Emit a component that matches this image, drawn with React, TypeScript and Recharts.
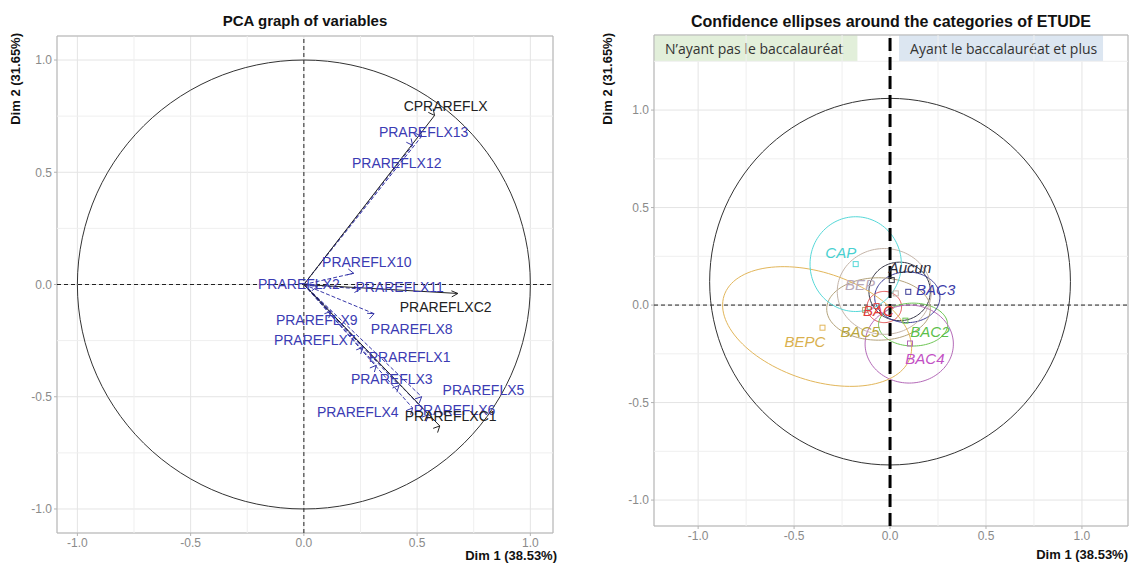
import {
  ComposedChart,
  Line,
  Scatter,
  XAxis,
  YAxis,
  CartesianGrid,
  ReferenceLine,
  ReferenceArea,
} from "recharts";

// ---------- PCA graph of variables ----------
const varNames = [
  "PRAREFLX1", "PRAREFLX2", "PRAREFLX3", "PRAREFLX4", "PRAREFLX5", "PRAREFLX6",
  "PRAREFLX7", "PRAREFLX8", "PRAREFLX9", "PRAREFLX10", "PRAREFLX11", "PRAREFLX12",
  "PRAREFLX13", "CPRAREFLX", "PRAREFLXC1", "PRAREFLXC2",
];
const varDim1 = [0.32, 0.06, 0.42, 0.48, 0.52, 0.55, 0.26, 0.31, 0.12, 0.22, 0.25, 0.48, 0.52, 0.577, 0.6, 0.68];
const varDim2 = [-0.36, -0.01, -0.45, -0.55, -0.5, -0.58, -0.28, -0.13, -0.12, 0.05, -0.02, 0.62, 0.66, 0.753, -0.63, -0.04];
const varActive = [false, false, false, false, false, false, false, false, false, false, false, false, false, true, true, true];
const varLabelDim1 = [0.467, -0.022, 0.388, 0.238, 0.793, 0.665, 0.048, 0.476, 0.057, 0.278, 0.423, 0.41, 0.529, 0.626, 0.648, 0.626];
const varLabelDim2 = [-0.321, 0.004, -0.419, -0.57, -0.468, -0.557, -0.249, -0.2, -0.156, 0.102, -0.009, 0.543, 0.681, 0.793, -0.588, -0.102];

// ---------- Confidence ellipses (ETUDE) ----------
const categories = ["Aucun", "BAC", "BAC2", "BAC3", "BAC4", "BAC5", "BEP", "BEPC", "CAP"];
const catDim1 = [0.009, -0.07, 0.08, 0.095, 0.104, -0.13, 0.03, -0.352, -0.179];
const catDim2 = [0.128, -0.005, -0.08, 0.068, -0.197, -0.025, 0.06, -0.116, 0.21];
const catLabelDim1 = [0.104, -0.06, 0.208, 0.238, 0.182, -0.156, -0.156, -0.443, -0.257];
const catLabelDim2 = [0.193, -0.026, -0.137, 0.08, -0.273, -0.137, 0.103, -0.188, 0.268];
const ellCx = [0.05, -0.03, 0.12, 0.09, 0.1, -0.06, -0.03, -0.38, -0.179];
const ellCy = [0.07, -0.01, -0.1, 0.04, -0.2, -0.02, 0.07, -0.11, 0.21];
const ellA = [0.16, 0.09, 0.18, 0.17, 0.23, 0.27, 0.245, 0.51, 0.238];
const ellB = [0.15, 0.08, 0.11, 0.13, 0.2, 0.16, 0.22, 0.277, 0.243];
const ellAngle = [0, 0, 0, 0, 0, 0, 0, -18, 0];
const catStroke = ["#353545", "#e05050", "#6cc552", "#3c3c96", "#b46ab8", "#b3a27a", "#c4b4a8", "#e2b65a", "#55d8d8"];
const catText = ["#2a2a3a", "#e03c3c", "#5cbf4a", "#3a3aa8", "#c24fc4", "#b8a640", "#b8a8b8", "#d9b04e", "#48d0d0"];

const groupBoxes = ["N’ayant pas le baccalauréat", "Ayant le baccalauréat et plus"];

const majorTicks = [-1, -0.5, 0, 0.5, 1];
const minorTicks = [-0.75, -0.25, 0.25, 0.75, 1.25];

const BLUE = "#3b3bb3";
const FONT = "'Liberation Sans', Arial, sans-serif";

const LX: [number, number] = [-1.09, 1.1];
const LY: [number, number] = [-1.107, 1.107];
const RX: [number, number] = [-1.23, 1.24];
const RY: [number, number] = [-1.133, 1.385];

function ellipse(cx: number, cy: number, a: number, b: number, deg: number) {
  const t = (deg * Math.PI) / 180;
  const pts = [];
  for (let i = 0; i <= 120; i++) {
    const u = (i / 120) * 2 * Math.PI;
    const ex = a * Math.cos(u);
    const ey = b * Math.sin(u);
    pts.push({ x: cx + ex * Math.cos(t) - ey * Math.sin(t), y: cy + ex * Math.sin(t) + ey * Math.cos(t) });
  }
  return pts;
}

const arrowHead = (color: string, sx: number, sy: number) => (p: any) => {
  const { cx, cy, index, payload } = p;
  if (index !== 1 || cx == null) return <g key={`n${index}`} />;
  const ang = Math.atan2(-payload.y * sy, payload.x * sx);
  const len = 7;
  const sp = 0.45;
  const a1 = [cx - len * Math.cos(ang - sp), cy + len * Math.sin(ang - sp)];
  const a2 = [cx - len * Math.cos(ang + sp), cy + len * Math.sin(ang + sp)];
  return (
    <polyline
      key={`h${index}`}
      points={`${a1[0]},${a1[1]} ${cx},${cy} ${a2[0]},${a2[1]}`}
      fill="none"
      stroke={color}
      strokeWidth={1}
    />
  );
};

const textShape = (italic: boolean, size: number) => (p: any) => (
  <text
    x={p.cx}
    y={p.cy}
    textAnchor="middle"
    dominantBaseline="central"
    fontSize={size}
    fontFamily={FONT}
    fontStyle={italic ? "italic" : "normal"}
    fill={p.payload.color}
  >
    {p.payload.name}
  </text>
);

const squareShape = (p: any) => (
  <rect x={p.cx - 2.5} y={p.cy - 2.5} width={5} height={5} fill="none" stroke={p.payload.color} strokeWidth={1} />
);

const BoxLabel = (props: any) => {
  const vb = props.viewBox || {};
  return (
    <text
      x={vb.x + 11}
      y={vb.y + vb.height / 2}
      dominantBaseline="central"
      fontSize={14}
      fontFamily="'Open Sans', sans-serif"
      fill="#333"
    >
      {props.text}
    </text>
  );
};

const tickFmt = (v: number) => v.toFixed(1);
const tickStyle = { fill: "#8a8a8a", fontSize: 12, fontFamily: FONT };

function axes(xd: [number, number], yd: [number, number]) {
  return [
    <XAxis
      key="x"
      type="number"
      dataKey="x"
      domain={xd}
      allowDataOverflow
      ticks={majorTicks}
      tickFormatter={tickFmt}
      tick={tickStyle}
      tickLine={{ stroke: "#b3b3b3" }}
      tickSize={3}
      axisLine={false}
      height={20}
    />,
    <YAxis
      key="y"
      type="number"
      dataKey="y"
      domain={yd}
      allowDataOverflow
      ticks={majorTicks}
      tickFormatter={tickFmt}
      tick={tickStyle}
      tickLine={{ stroke: "#b3b3b3" }}
      tickSize={3}
      axisLine={false}
      width={30}
    />,
    <CartesianGrid key="g" stroke="#e4e4e4" />,
    ...minorTicks.map((t) => (
      <ReferenceLine key={`mx${t}`} x={t} stroke="#efefef" strokeWidth={1} />
    )),
    ...minorTicks.map((t) => (
      <ReferenceLine key={`my${t}`} y={t} stroke="#efefef" strokeWidth={1} />
    )),
  ];
}

const VarChart = () => {
  const sx = 496 / (LX[1] - LX[0]);
  const sy = 497 / (LY[1] - LY[0]);
  const order = varNames.map((_, i) => i).sort((a, b) => Number(varActive[a]) - Number(varActive[b]));
  const labels = varNames.map((n, i) => ({
    x: varLabelDim1[i],
    y: varLabelDim2[i],
    name: n,
    color: varActive[i] ? "#222" : BLUE,
  }));
  return (
    <ComposedChart width={560} height={566} margin={{ top: 36, right: 7, bottom: 13, left: 27 }}>
      {axes(LX, LY)}
      <ReferenceLine x={0} stroke="#222" strokeDasharray="4 3" />
      <ReferenceLine y={0} stroke="#222" strokeDasharray="4 3" />
      <Line
        data={ellipse(0, 0, 1, 1, 0)}
        dataKey="y"
        stroke="#333"
        strokeWidth={1}
        dot={false}
        activeDot={false}
        isAnimationActive={false}
      />
      {order.map((i) => {
        const color = varActive[i] ? "#222" : "#3636a8";
        return (
          <Line
            key={varNames[i]}
            data={[{ x: 0, y: 0 }, { x: varDim1[i], y: varDim2[i] }]}
            dataKey="y"
            stroke={color}
            strokeWidth={1}
            strokeDasharray={varActive[i] ? undefined : "4 2"}
            dot={arrowHead(color, sx, sy)}
            activeDot={false}
            isAnimationActive={false}
          />
        );
      })}
      <Scatter data={labels} shape={textShape(false, 14)} isAnimationActive={false} />
      <ReferenceArea x1={LX[0]} x2={LX[1]} y1={LY[0]} y2={LY[1]} fill="none" stroke="#b3b3b3" ifOverflow="visible" />
    </ComposedChart>
  );
};

const EllipseChart = () => {
  const points = categories.map((c, i) => ({ x: catDim1[i], y: catDim2[i], name: c, color: catStroke[i] }));
  const labels = categories.map((c, i) => ({ x: catLabelDim1[i], y: catLabelDim2[i], name: c, color: catText[i] }));
  return (
    <ComposedChart width={550} height={566} margin={{ top: 35, right: 2, bottom: 20, left: 44 }}>
      {axes(RX, RY)}
      <ReferenceArea x1={RX[0]} x2={-0.17} y1={1.251} y2={RY[1]} fill="#e2efda" fillOpacity={1} stroke="none" label={<BoxLabel text={groupBoxes[0]} />} />
      <ReferenceArea x1={0.047} x2={1.11} y1={1.251} y2={RY[1]} fill="#dce6f1" fillOpacity={1} stroke="none" label={<BoxLabel text={groupBoxes[1]} />} />
      <ReferenceLine y={0} stroke="#222" strokeDasharray="4 3" />
      <Line
        data={ellipse(0, 0.12, 0.94, 0.94, 0)}
        dataKey="y"
        stroke="#333"
        strokeWidth={1}
        dot={false}
        activeDot={false}
        isAnimationActive={false}
      />
      {categories.map((c, i) => (
        <Line
          key={c}
          data={ellipse(ellCx[i], ellCy[i], ellA[i], ellB[i], ellAngle[i])}
          dataKey="y"
          stroke={catStroke[i]}
          strokeWidth={1}
          dot={false}
          activeDot={false}
          isAnimationActive={false}
        />
      ))}
      <Scatter data={points} shape={squareShape} isAnimationActive={false} />
      <Scatter data={labels} shape={textShape(true, 15)} isAnimationActive={false} />
      <ReferenceLine x={0} stroke="#000" strokeWidth={3} strokeDasharray="13 6" />
      <ReferenceArea x1={RX[0]} x2={RX[1]} y1={RY[0]} y2={RY[1]} fill="none" stroke="#b3b3b3" ifOverflow="visible" />
    </ComposedChart>
  );
};

export default function App() {
  return (
    <div style={{ position: "absolute", left: 0, top: 0, width: 1130, height: 566, background: "#fff", fontFamily: FONT }}>
      <div style={{ position: "absolute", left: 0, top: 0 }}>
        <VarChart />
      </div>
      <div style={{ position: "absolute", left: 580, top: 0 }}>
        <EllipseChart />
      </div>
      <svg width={1130} height={566} style={{ position: "absolute", left: 0, top: 0, pointerEvents: "none" }}>
        <g fontFamily={FONT} fontWeight="bold" fill="#111">
          <text x={305} y={26} textAnchor="middle" fontSize={15}>PCA graph of variables</text>
          <text x={891} y={27} textAnchor="middle" fontSize={16}>Confidence ellipses around the categories of ETUDE</text>
          <text x={557} y={560} textAnchor="end" fontSize={13}>Dim 1 (38.53%)</text>
          <text x={1128} y={559} textAnchor="end" fontSize={13}>Dim 1 (38.53%)</text>
          <text transform="translate(20, 33) rotate(-90)" textAnchor="end" fontSize={13}>Dim 2 (31.65%)</text>
          <text transform="translate(612, 33) rotate(-90)" textAnchor="end" fontSize={13}>Dim 2 (31.65%)</text>
        </g>
      </svg>
    </div>
  );
}
